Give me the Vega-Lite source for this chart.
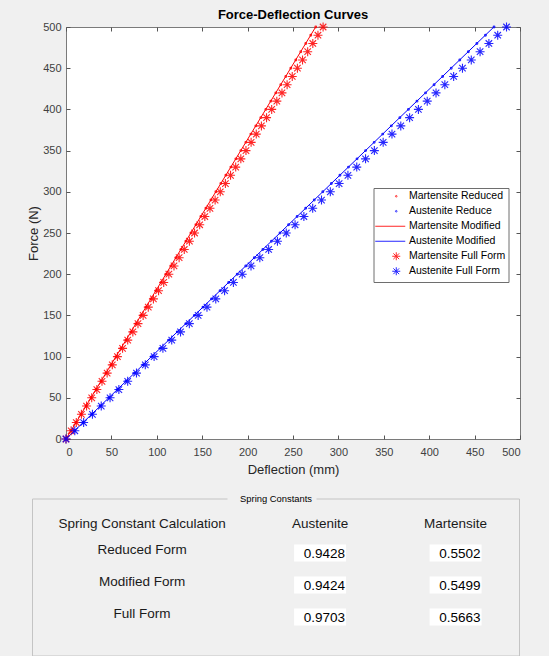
{
  "$schema": "https://vega.github.io/schema/vega-lite/v6.json",
  "background": "#f0f0f0",
  "padding": {"left": 27, "top": 8, "right": 0, "bottom": 0},
  "config": {
    "font": "Liberation Sans",
    "axis": {"minExtent": 0, "grid": false},
    "legend": {
      "orient": "none",
      "legendX": 307.5,
      "legendY": 161,
      "fillColor": "white",
      "strokeColor": "#6e6e6e",
      "padding": 3,
      "rowPadding": 0,
      "symbolSize": 64,
      "symbolStrokeWidth": 1,
      "symbolOffset": 14.5,
      "labelOffset": 7.5,
      "labelFontSize": 10.5,
      "labelColor": "#000000",
      "labelLimit": 300
    }
  },
  "vconcat": [
    {
      "width": 454,
      "height": 412,
      "title": {"text": "Force-Deflection Curves", "fontSize": 13, "fontWeight": "bold", "color": "#000000", "offset": -2.5},
      "view": {"stroke": "#7a7a7a", "fill": "white"},
      "data": {"values": [
        {"series":"Martensite Reduced","force":0,"defl":0},{"series":"Martensite Reduced","force":10,"defl":5.50},{"series":"Martensite Reduced","force":20,"defl":11.00},{"series":"Martensite Reduced","force":30,"defl":16.51},{"series":"Martensite Reduced","force":40,"defl":22.01},{"series":"Martensite Reduced","force":50,"defl":27.51},{"series":"Martensite Reduced","force":60,"defl":33.01},{"series":"Martensite Reduced","force":70,"defl":38.51},{"series":"Martensite Reduced","force":80,"defl":44.02},{"series":"Martensite Reduced","force":90,"defl":49.52},{"series":"Martensite Reduced","force":100,"defl":55.02},{"series":"Martensite Reduced","force":110,"defl":60.52},{"series":"Martensite Reduced","force":120,"defl":66.02},{"series":"Martensite Reduced","force":130,"defl":71.53},{"series":"Martensite Reduced","force":140,"defl":77.03},{"series":"Martensite Reduced","force":150,"defl":82.53},{"series":"Martensite Reduced","force":160,"defl":88.03},{"series":"Martensite Reduced","force":170,"defl":93.53},{"series":"Martensite Reduced","force":180,"defl":99.04},{"series":"Martensite Reduced","force":190,"defl":104.54},{"series":"Martensite Reduced","force":200,"defl":110.04},{"series":"Martensite Reduced","force":210,"defl":115.54},{"series":"Martensite Reduced","force":220,"defl":121.04},{"series":"Martensite Reduced","force":230,"defl":126.55},{"series":"Martensite Reduced","force":240,"defl":132.05},{"series":"Martensite Reduced","force":250,"defl":137.55},{"series":"Martensite Reduced","force":260,"defl":143.05},{"series":"Martensite Reduced","force":270,"defl":148.55},{"series":"Martensite Reduced","force":280,"defl":154.06},{"series":"Martensite Reduced","force":290,"defl":159.56},{"series":"Martensite Reduced","force":300,"defl":165.06},{"series":"Martensite Reduced","force":310,"defl":170.56},{"series":"Martensite Reduced","force":320,"defl":176.06},{"series":"Martensite Reduced","force":330,"defl":181.57},{"series":"Martensite Reduced","force":340,"defl":187.07},{"series":"Martensite Reduced","force":350,"defl":192.57},{"series":"Martensite Reduced","force":360,"defl":198.07},{"series":"Martensite Reduced","force":370,"defl":203.57},{"series":"Martensite Reduced","force":380,"defl":209.08},{"series":"Martensite Reduced","force":390,"defl":214.58},{"series":"Martensite Reduced","force":400,"defl":220.08},{"series":"Martensite Reduced","force":410,"defl":225.58},{"series":"Martensite Reduced","force":420,"defl":231.08},{"series":"Martensite Reduced","force":430,"defl":236.59},{"series":"Martensite Reduced","force":440,"defl":242.09},{"series":"Martensite Reduced","force":450,"defl":247.59},{"series":"Martensite Reduced","force":460,"defl":253.09},{"series":"Martensite Reduced","force":470,"defl":258.59},{"series":"Martensite Reduced","force":480,"defl":264.10},{"series":"Martensite Reduced","force":490,"defl":269.60},{"series":"Martensite Reduced","force":500,"defl":275.10},
        {"series":"Austenite Reduce","force":0,"defl":0},{"series":"Austenite Reduce","force":10,"defl":9.43},{"series":"Austenite Reduce","force":20,"defl":18.86},{"series":"Austenite Reduce","force":30,"defl":28.28},{"series":"Austenite Reduce","force":40,"defl":37.71},{"series":"Austenite Reduce","force":50,"defl":47.14},{"series":"Austenite Reduce","force":60,"defl":56.57},{"series":"Austenite Reduce","force":70,"defl":66.00},{"series":"Austenite Reduce","force":80,"defl":75.42},{"series":"Austenite Reduce","force":90,"defl":84.85},{"series":"Austenite Reduce","force":100,"defl":94.28},{"series":"Austenite Reduce","force":110,"defl":103.71},{"series":"Austenite Reduce","force":120,"defl":113.14},{"series":"Austenite Reduce","force":130,"defl":122.56},{"series":"Austenite Reduce","force":140,"defl":131.99},{"series":"Austenite Reduce","force":150,"defl":141.42},{"series":"Austenite Reduce","force":160,"defl":150.85},{"series":"Austenite Reduce","force":170,"defl":160.28},{"series":"Austenite Reduce","force":180,"defl":169.70},{"series":"Austenite Reduce","force":190,"defl":179.13},{"series":"Austenite Reduce","force":200,"defl":188.56},{"series":"Austenite Reduce","force":210,"defl":197.99},{"series":"Austenite Reduce","force":220,"defl":207.42},{"series":"Austenite Reduce","force":230,"defl":216.84},{"series":"Austenite Reduce","force":240,"defl":226.27},{"series":"Austenite Reduce","force":250,"defl":235.70},{"series":"Austenite Reduce","force":260,"defl":245.13},{"series":"Austenite Reduce","force":270,"defl":254.56},{"series":"Austenite Reduce","force":280,"defl":263.98},{"series":"Austenite Reduce","force":290,"defl":273.41},{"series":"Austenite Reduce","force":300,"defl":282.84},{"series":"Austenite Reduce","force":310,"defl":292.27},{"series":"Austenite Reduce","force":320,"defl":301.70},{"series":"Austenite Reduce","force":330,"defl":311.12},{"series":"Austenite Reduce","force":340,"defl":320.55},{"series":"Austenite Reduce","force":350,"defl":329.98},{"series":"Austenite Reduce","force":360,"defl":339.41},{"series":"Austenite Reduce","force":370,"defl":348.84},{"series":"Austenite Reduce","force":380,"defl":358.26},{"series":"Austenite Reduce","force":390,"defl":367.69},{"series":"Austenite Reduce","force":400,"defl":377.12},{"series":"Austenite Reduce","force":410,"defl":386.55},{"series":"Austenite Reduce","force":420,"defl":395.98},{"series":"Austenite Reduce","force":430,"defl":405.40},{"series":"Austenite Reduce","force":440,"defl":414.83},{"series":"Austenite Reduce","force":450,"defl":424.26},{"series":"Austenite Reduce","force":460,"defl":433.69},{"series":"Austenite Reduce","force":470,"defl":443.12},{"series":"Austenite Reduce","force":480,"defl":452.54},{"series":"Austenite Reduce","force":490,"defl":461.97},{"series":"Austenite Reduce","force":500,"defl":471.40},
        {"series":"Martensite Modified","force":0,"defl":0},{"series":"Martensite Modified","force":10,"defl":5.50},{"series":"Martensite Modified","force":20,"defl":11.00},{"series":"Martensite Modified","force":30,"defl":16.50},{"series":"Martensite Modified","force":40,"defl":22.00},{"series":"Martensite Modified","force":50,"defl":27.50},{"series":"Martensite Modified","force":60,"defl":32.99},{"series":"Martensite Modified","force":70,"defl":38.49},{"series":"Martensite Modified","force":80,"defl":43.99},{"series":"Martensite Modified","force":90,"defl":49.49},{"series":"Martensite Modified","force":100,"defl":54.99},{"series":"Martensite Modified","force":110,"defl":60.49},{"series":"Martensite Modified","force":120,"defl":65.99},{"series":"Martensite Modified","force":130,"defl":71.49},{"series":"Martensite Modified","force":140,"defl":76.99},{"series":"Martensite Modified","force":150,"defl":82.49},{"series":"Martensite Modified","force":160,"defl":87.98},{"series":"Martensite Modified","force":170,"defl":93.48},{"series":"Martensite Modified","force":180,"defl":98.98},{"series":"Martensite Modified","force":190,"defl":104.48},{"series":"Martensite Modified","force":200,"defl":109.98},{"series":"Martensite Modified","force":210,"defl":115.48},{"series":"Martensite Modified","force":220,"defl":120.98},{"series":"Martensite Modified","force":230,"defl":126.48},{"series":"Martensite Modified","force":240,"defl":131.98},{"series":"Martensite Modified","force":250,"defl":137.48},{"series":"Martensite Modified","force":260,"defl":142.97},{"series":"Martensite Modified","force":270,"defl":148.47},{"series":"Martensite Modified","force":280,"defl":153.97},{"series":"Martensite Modified","force":290,"defl":159.47},{"series":"Martensite Modified","force":300,"defl":164.97},{"series":"Martensite Modified","force":310,"defl":170.47},{"series":"Martensite Modified","force":320,"defl":175.97},{"series":"Martensite Modified","force":330,"defl":181.47},{"series":"Martensite Modified","force":340,"defl":186.97},{"series":"Martensite Modified","force":350,"defl":192.47},{"series":"Martensite Modified","force":360,"defl":197.96},{"series":"Martensite Modified","force":370,"defl":203.46},{"series":"Martensite Modified","force":380,"defl":208.96},{"series":"Martensite Modified","force":390,"defl":214.46},{"series":"Martensite Modified","force":400,"defl":219.96},{"series":"Martensite Modified","force":410,"defl":225.46},{"series":"Martensite Modified","force":420,"defl":230.96},{"series":"Martensite Modified","force":430,"defl":236.46},{"series":"Martensite Modified","force":440,"defl":241.96},{"series":"Martensite Modified","force":450,"defl":247.46},{"series":"Martensite Modified","force":460,"defl":252.95},{"series":"Martensite Modified","force":470,"defl":258.45},{"series":"Martensite Modified","force":480,"defl":263.95},{"series":"Martensite Modified","force":490,"defl":269.45},{"series":"Martensite Modified","force":500,"defl":274.95},
        {"series":"Austenite Modified","force":0,"defl":0},{"series":"Austenite Modified","force":10,"defl":9.42},{"series":"Austenite Modified","force":20,"defl":18.85},{"series":"Austenite Modified","force":30,"defl":28.27},{"series":"Austenite Modified","force":40,"defl":37.70},{"series":"Austenite Modified","force":50,"defl":47.12},{"series":"Austenite Modified","force":60,"defl":56.54},{"series":"Austenite Modified","force":70,"defl":65.97},{"series":"Austenite Modified","force":80,"defl":75.39},{"series":"Austenite Modified","force":90,"defl":84.82},{"series":"Austenite Modified","force":100,"defl":94.24},{"series":"Austenite Modified","force":110,"defl":103.66},{"series":"Austenite Modified","force":120,"defl":113.09},{"series":"Austenite Modified","force":130,"defl":122.51},{"series":"Austenite Modified","force":140,"defl":131.94},{"series":"Austenite Modified","force":150,"defl":141.36},{"series":"Austenite Modified","force":160,"defl":150.78},{"series":"Austenite Modified","force":170,"defl":160.21},{"series":"Austenite Modified","force":180,"defl":169.63},{"series":"Austenite Modified","force":190,"defl":179.06},{"series":"Austenite Modified","force":200,"defl":188.48},{"series":"Austenite Modified","force":210,"defl":197.90},{"series":"Austenite Modified","force":220,"defl":207.33},{"series":"Austenite Modified","force":230,"defl":216.75},{"series":"Austenite Modified","force":240,"defl":226.18},{"series":"Austenite Modified","force":250,"defl":235.60},{"series":"Austenite Modified","force":260,"defl":245.02},{"series":"Austenite Modified","force":270,"defl":254.45},{"series":"Austenite Modified","force":280,"defl":263.87},{"series":"Austenite Modified","force":290,"defl":273.30},{"series":"Austenite Modified","force":300,"defl":282.72},{"series":"Austenite Modified","force":310,"defl":292.14},{"series":"Austenite Modified","force":320,"defl":301.57},{"series":"Austenite Modified","force":330,"defl":310.99},{"series":"Austenite Modified","force":340,"defl":320.42},{"series":"Austenite Modified","force":350,"defl":329.84},{"series":"Austenite Modified","force":360,"defl":339.26},{"series":"Austenite Modified","force":370,"defl":348.69},{"series":"Austenite Modified","force":380,"defl":358.11},{"series":"Austenite Modified","force":390,"defl":367.54},{"series":"Austenite Modified","force":400,"defl":376.96},{"series":"Austenite Modified","force":410,"defl":386.38},{"series":"Austenite Modified","force":420,"defl":395.81},{"series":"Austenite Modified","force":430,"defl":405.23},{"series":"Austenite Modified","force":440,"defl":414.66},{"series":"Austenite Modified","force":450,"defl":424.08},{"series":"Austenite Modified","force":460,"defl":433.50},{"series":"Austenite Modified","force":470,"defl":442.93},{"series":"Austenite Modified","force":480,"defl":452.35},{"series":"Austenite Modified","force":490,"defl":461.78},{"series":"Austenite Modified","force":500,"defl":471.20},
        {"series":"Martensite Full Form","force":0,"defl":0},{"series":"Martensite Full Form","force":10,"defl":5.66},{"series":"Martensite Full Form","force":20,"defl":11.33},{"series":"Martensite Full Form","force":30,"defl":16.99},{"series":"Martensite Full Form","force":40,"defl":22.65},{"series":"Martensite Full Form","force":50,"defl":28.32},{"series":"Martensite Full Form","force":60,"defl":33.98},{"series":"Martensite Full Form","force":70,"defl":39.64},{"series":"Martensite Full Form","force":80,"defl":45.30},{"series":"Martensite Full Form","force":90,"defl":50.97},{"series":"Martensite Full Form","force":100,"defl":56.63},{"series":"Martensite Full Form","force":110,"defl":62.29},{"series":"Martensite Full Form","force":120,"defl":67.96},{"series":"Martensite Full Form","force":130,"defl":73.62},{"series":"Martensite Full Form","force":140,"defl":79.28},{"series":"Martensite Full Form","force":150,"defl":84.95},{"series":"Martensite Full Form","force":160,"defl":90.61},{"series":"Martensite Full Form","force":170,"defl":96.27},{"series":"Martensite Full Form","force":180,"defl":101.93},{"series":"Martensite Full Form","force":190,"defl":107.60},{"series":"Martensite Full Form","force":200,"defl":113.26},{"series":"Martensite Full Form","force":210,"defl":118.92},{"series":"Martensite Full Form","force":220,"defl":124.59},{"series":"Martensite Full Form","force":230,"defl":130.25},{"series":"Martensite Full Form","force":240,"defl":135.91},{"series":"Martensite Full Form","force":250,"defl":141.58},{"series":"Martensite Full Form","force":260,"defl":147.24},{"series":"Martensite Full Form","force":270,"defl":152.90},{"series":"Martensite Full Form","force":280,"defl":158.56},{"series":"Martensite Full Form","force":290,"defl":164.23},{"series":"Martensite Full Form","force":300,"defl":169.89},{"series":"Martensite Full Form","force":310,"defl":175.55},{"series":"Martensite Full Form","force":320,"defl":181.22},{"series":"Martensite Full Form","force":330,"defl":186.88},{"series":"Martensite Full Form","force":340,"defl":192.54},{"series":"Martensite Full Form","force":350,"defl":198.21},{"series":"Martensite Full Form","force":360,"defl":203.87},{"series":"Martensite Full Form","force":370,"defl":209.53},{"series":"Martensite Full Form","force":380,"defl":215.19},{"series":"Martensite Full Form","force":390,"defl":220.86},{"series":"Martensite Full Form","force":400,"defl":226.52},{"series":"Martensite Full Form","force":410,"defl":232.18},{"series":"Martensite Full Form","force":420,"defl":237.85},{"series":"Martensite Full Form","force":430,"defl":243.51},{"series":"Martensite Full Form","force":440,"defl":249.17},{"series":"Martensite Full Form","force":450,"defl":254.84},{"series":"Martensite Full Form","force":460,"defl":260.50},{"series":"Martensite Full Form","force":470,"defl":266.16},{"series":"Martensite Full Form","force":480,"defl":271.82},{"series":"Martensite Full Form","force":490,"defl":277.49},{"series":"Martensite Full Form","force":500,"defl":283.15},
        {"series":"Austenite Full Form","force":0,"defl":0},{"series":"Austenite Full Form","force":10,"defl":9.70},{"series":"Austenite Full Form","force":20,"defl":19.41},{"series":"Austenite Full Form","force":30,"defl":29.11},{"series":"Austenite Full Form","force":40,"defl":38.81},{"series":"Austenite Full Form","force":50,"defl":48.52},{"series":"Austenite Full Form","force":60,"defl":58.22},{"series":"Austenite Full Form","force":70,"defl":67.92},{"series":"Austenite Full Form","force":80,"defl":77.62},{"series":"Austenite Full Form","force":90,"defl":87.33},{"series":"Austenite Full Form","force":100,"defl":97.03},{"series":"Austenite Full Form","force":110,"defl":106.73},{"series":"Austenite Full Form","force":120,"defl":116.44},{"series":"Austenite Full Form","force":130,"defl":126.14},{"series":"Austenite Full Form","force":140,"defl":135.84},{"series":"Austenite Full Form","force":150,"defl":145.55},{"series":"Austenite Full Form","force":160,"defl":155.25},{"series":"Austenite Full Form","force":170,"defl":164.95},{"series":"Austenite Full Form","force":180,"defl":174.65},{"series":"Austenite Full Form","force":190,"defl":184.36},{"series":"Austenite Full Form","force":200,"defl":194.06},{"series":"Austenite Full Form","force":210,"defl":203.76},{"series":"Austenite Full Form","force":220,"defl":213.47},{"series":"Austenite Full Form","force":230,"defl":223.17},{"series":"Austenite Full Form","force":240,"defl":232.87},{"series":"Austenite Full Form","force":250,"defl":242.58},{"series":"Austenite Full Form","force":260,"defl":252.28},{"series":"Austenite Full Form","force":270,"defl":261.98},{"series":"Austenite Full Form","force":280,"defl":271.68},{"series":"Austenite Full Form","force":290,"defl":281.39},{"series":"Austenite Full Form","force":300,"defl":291.09},{"series":"Austenite Full Form","force":310,"defl":300.79},{"series":"Austenite Full Form","force":320,"defl":310.50},{"series":"Austenite Full Form","force":330,"defl":320.20},{"series":"Austenite Full Form","force":340,"defl":329.90},{"series":"Austenite Full Form","force":350,"defl":339.61},{"series":"Austenite Full Form","force":360,"defl":349.31},{"series":"Austenite Full Form","force":370,"defl":359.01},{"series":"Austenite Full Form","force":380,"defl":368.71},{"series":"Austenite Full Form","force":390,"defl":378.42},{"series":"Austenite Full Form","force":400,"defl":388.12},{"series":"Austenite Full Form","force":410,"defl":397.82},{"series":"Austenite Full Form","force":420,"defl":407.53},{"series":"Austenite Full Form","force":430,"defl":417.23},{"series":"Austenite Full Form","force":440,"defl":426.93},{"series":"Austenite Full Form","force":450,"defl":436.64},{"series":"Austenite Full Form","force":460,"defl":446.34},{"series":"Austenite Full Form","force":470,"defl":456.04},{"series":"Austenite Full Form","force":480,"defl":465.74},{"series":"Austenite Full Form","force":490,"defl":475.45},{"series":"Austenite Full Form","force":500,"defl":485.15}
      ]},
      "layer": [
        {
          "transform": [{"filter": "datum.series === 'Martensite Modified' || datum.series === 'Austenite Modified'"}],
          "mark": {"type": "line", "strokeWidth": 1},
          "encoding": {
            "x": {"field": "defl", "type": "quantitative", "scale": {"domain": [0, 500], "nice": false},
              "axis": {"orient": "bottom", "title": "Deflection (mm)", "values": [0,50,100,150,200,250,300,350,400,450,500], "domain": false, "tickSize": -4, "tickColor": "#555555", "labelPadding": 11, "labelFontSize": 11, "labelColor": "#404040", "titleFontSize": 13, "titleFontWeight": "normal", "titleColor": "#262626", "titlePadding": 6}},
            "y": {"field": "force", "type": "quantitative", "scale": {"domain": [0, 500], "nice": false},
              "axis": {"orient": "left", "title": "Force (N)", "values": [0,50,100,150,200,250,300,350,400,450,500], "domain": false, "tickSize": -4, "tickColor": "#555555", "labelPadding": 9, "labelFontSize": 11, "labelColor": "#404040", "titleFontSize": 13, "titleFontWeight": "normal", "titleColor": "#262626", "titlePadding": 2}},
            "color": {"field": "series", "type": "nominal", "title": null,
              "scale": {"domain": ["Martensite Reduced", "Austenite Reduce", "Martensite Modified", "Austenite Modified", "Martensite Full Form", "Austenite Full Form"],
                        "range": ["#ff0000", "#0000ff", "#ff0000", "#0000ff", "#ff0000", "#0000ff"]}},
            "order": {"field": "force", "type": "quantitative"}
          }
        },
        {
          "transform": [{"filter": "datum.series !== 'Martensite Modified' && datum.series !== 'Austenite Modified'"}],
          "mark": {"type": "point", "filled": false, "size": 81, "strokeWidth": 1.1, "opacity": 0.85},
          "encoding": {
            "x": {"field": "defl", "type": "quantitative", "scale": {"domain": [0, 500], "nice": false},
              "axis": {"orient": "top", "title": null, "labels": false, "domain": false, "values": [0,50,100,150,200,250,300,350,400,450,500], "tickSize": -4, "tickColor": "#555555"}},
            "y": {"field": "force", "type": "quantitative", "scale": {"domain": [0, 500], "nice": false},
              "axis": {"orient": "right", "title": null, "labels": false, "domain": false, "values": [0,50,100,150,200,250,300,350,400,450,500], "tickSize": -4, "tickColor": "#555555"}},
            "color": {"field": "series", "type": "nominal", "title": null,
              "scale": {"domain": ["Martensite Reduced", "Austenite Reduce", "Martensite Modified", "Austenite Modified", "Martensite Full Form", "Austenite Full Form"],
                        "range": ["#ff0000", "#0000ff", "#ff0000", "#0000ff", "#ff0000", "#0000ff"]}},
            "shape": {"field": "series", "type": "nominal", "title": null,
              "scale": {"domain": ["Martensite Reduced", "Austenite Reduce", "Martensite Modified", "Austenite Modified", "Martensite Full Form", "Austenite Full Form"],
                        "range": [
                          "M0,-1.25M0,1.25M0.2,0A0.2,0.2,0,1,1,-0.2,0A0.2,0.2,0,1,1,0.2,0Z",
                          "M0,-1.25M0,1.25M0.2,0A0.2,0.2,0,1,1,-0.2,0A0.2,0.2,0,1,1,0.2,0Z",
                          "M0,-1.25M0,1.25M-5.25,0H2.25",
                          "M0,-1.25M0,1.25M-5.25,0H2.25",
                          "M0,-1.25M0,1.25M-1,0H1M0,-1V1M-0.72,-0.72L0.72,0.72M-0.72,0.72L0.72,-0.72",
                          "M0,-1.25M0,1.25M-1,0H1M0,-1V1M-0.72,-0.72L0.72,0.72M-0.72,0.72L0.72,-0.72"
                        ]}}
          }
        }
      ],
      "resolve": {"axis": {"x": "independent", "y": "independent"}}
    },
    {
      "width": 487,
      "height": 157,
      "view": {"stroke": null},
      "data": {"values": [
        {"form": "Reduced Form", "phase": "Austenite", "k": 0.9428},
        {"form": "Reduced Form", "phase": "Martensite", "k": 0.5502},
        {"form": "Modified Form", "phase": "Austenite", "k": 0.9424},
        {"form": "Modified Form", "phase": "Martensite", "k": 0.5499},
        {"form": "Full Form", "phase": "Austenite", "k": 0.9703},
        {"form": "Full Form", "phase": "Martensite", "k": 0.5663}
      ]},
      "layer": [
        {
          "mark": {"type": "point", "filled": true, "fill": "white", "strokeWidth": 0, "opacity": 1, "size": 2704},
          "encoding": {
            "x": {"field": "phase", "type": "nominal",
              "scale": {"type": "point", "domain": ["Spring Constant Calculation", "Austenite", "Martensite"], "padding": 0.797, "align": 0.549},
              "axis": {"orient": "top", "position": -34, "labels": false, "ticks": false, "domain": true, "domainColor": "#c4c4c4", "domainDash": [195, 89, 400], "title": "Spring Constants", "titleFontSize": 9.4, "titleFontWeight": "normal", "titleColor": "#000000", "titleY": 0, "titleBaseline": "middle"}},
            "y": {"field": "form", "type": "nominal",
              "scale": {"type": "point", "domain": ["Spring Constant Calculation", "Reduced Form", "Modified Form", "Full Form"], "padding": 0.953, "align": 0.3115},
              "axis": {"orient": "left", "offset": 34, "labels": false, "ticks": false, "domain": true, "domainColor": "#c4c4c4", "title": null}},
            "shape": {"value": "M-1,-0.192H1V0.462H-1Z"}
          }
        },
        {
          "mark": {"type": "text", "align": "right", "baseline": "middle", "dx": 25, "dy": 4, "fontSize": 13.5, "color": "#000000"},
          "encoding": {
            "x": {"field": "phase", "type": "nominal",
              "scale": {"type": "point", "domain": ["Spring Constant Calculation", "Austenite", "Martensite"], "padding": 0.797, "align": 0.549},
              "axis": {"orient": "bottom", "position": -34, "labels": false, "ticks": false, "domain": true, "domainColor": "#c4c4c4", "title": null}},
            "y": {"field": "form", "type": "nominal",
              "scale": {"type": "point", "domain": ["Spring Constant Calculation", "Reduced Form", "Modified Form", "Full Form"], "padding": 0.953, "align": 0.3115},
              "axis": {"orient": "right", "offset": -34, "labels": false, "ticks": false, "domain": true, "domainColor": "#c4c4c4", "title": null}},
            "text": {"field": "k", "type": "quantitative", "format": ".4f"}
          }
        },
        {
          "transform": [{"filter": "datum.phase === 'Austenite'"}],
          "mark": {"type": "text", "align": "center", "baseline": "middle", "dx": -42.5, "fontSize": 13.5, "color": "#1a1a1a"},
          "encoding": {
            "x": {"datum": "Spring Constant Calculation", "type": "nominal",
              "scale": {"type": "point", "domain": ["Spring Constant Calculation", "Austenite", "Martensite"], "padding": 0.797, "align": 0.549}, "axis": null},
            "y": {"field": "form", "type": "nominal",
              "scale": {"type": "point", "domain": ["Spring Constant Calculation", "Reduced Form", "Modified Form", "Full Form"], "padding": 0.953, "align": 0.3115}, "axis": null},
            "text": {"field": "form", "type": "nominal"}
          }
        },
        {
          "transform": [{"filter": "datum.form === 'Reduced Form'"}],
          "mark": {"type": "text", "align": "center", "baseline": "middle", "dy": 6, "fontSize": 13.5, "color": "#1a1a1a"},
          "encoding": {
            "x": {"field": "phase", "type": "nominal",
              "scale": {"type": "point", "domain": ["Spring Constant Calculation", "Austenite", "Martensite"], "padding": 0.797, "align": 0.549}, "axis": null},
            "y": {"datum": "Spring Constant Calculation", "type": "nominal",
              "scale": {"type": "point", "domain": ["Spring Constant Calculation", "Reduced Form", "Modified Form", "Full Form"], "padding": 0.953, "align": 0.3115}, "axis": null},
            "text": {"field": "phase", "type": "nominal"}
          }
        },
        {
          "data": {"values": [{"heading": "Spring Constant Calculation"}]},
          "mark": {"type": "text", "align": "center", "baseline": "middle", "dx": -42.5, "dy": 6, "fontSize": 13.5, "color": "#1a1a1a"},
          "encoding": {
            "x": {"field": "heading", "type": "nominal",
              "scale": {"type": "point", "domain": ["Spring Constant Calculation", "Austenite", "Martensite"], "padding": 0.797, "align": 0.549}, "axis": null},
            "y": {"field": "heading", "type": "nominal",
              "scale": {"type": "point", "domain": ["Spring Constant Calculation", "Reduced Form", "Modified Form", "Full Form"], "padding": 0.953, "align": 0.3115}, "axis": null},
            "text": {"field": "heading", "type": "nominal"}
          }
        }
      ],
      "resolve": {"axis": {"x": "independent", "y": "independent"}}
    }
  ],
  "spacing": 16.5
}
